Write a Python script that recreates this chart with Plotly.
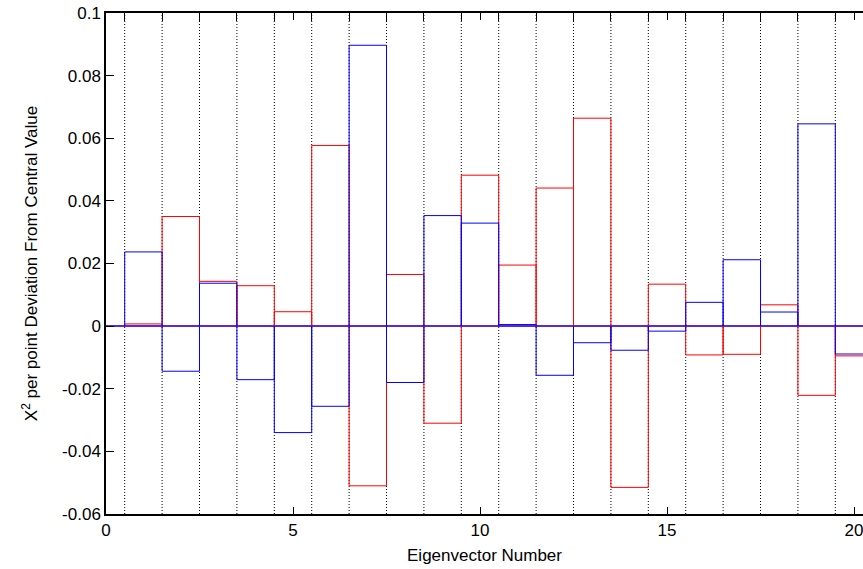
import plotly.graph_objects as go

eigenvectors = list(range(1, 21))
red_values = [0.0007, 0.0350, 0.0143, 0.0129, 0.0046, 0.0577, -0.0510, 0.0165, -0.0310, 0.0482,
              0.0195, 0.0441, 0.0664, -0.0515, 0.0134, -0.0092, -0.0090, 0.0068, -0.0221, -0.0095]
blue_values = [0.0237, -0.0144, 0.0137, -0.0171, -0.0340, -0.0256, 0.0897, -0.0180, 0.0353, 0.0329,
               0.0005, -0.0157, -0.0053, -0.0077, -0.0016, 0.0076, 0.0212, 0.0045, 0.0646, -0.0089]
x_ticks = [0, 5, 10, 15, 20]
y_ticks = [0.1, 0.08, 0.06, 0.04, 0.02, 0, -0.02, -0.04, -0.06]
y_tick_text = ["0.1", "0.08", "0.06", "0.04", "0.02", "0", "-0.02", "-0.04", "-0.06"]
separators = [i + 0.5 for i in range(0, 20)]

FONT = "Liberation Sans, Arial, Helvetica, sans-serif"
X_RANGE = [0, 20.24]
Y_RANGE = [-0.06, 0.1]


def box_outline(xs, vals):
    px, py = [], []
    for x, v in zip(xs, vals):
        px += [x - 0.5, x - 0.5, x + 0.5, x + 0.5, None]
        py += [0, v, v, 0, None]
    return px, py


def separator_lines(xs):
    px, py = [], []
    for x in xs:
        px += [x, x, None]
        py += [Y_RANGE[0], Y_RANGE[1], None]
    return px, py


fig = go.Figure()
sx, sy = separator_lines(separators)
fig.add_trace(go.Scatter(x=sx, y=sy, mode="lines",
                         line=dict(color="black", width=1, dash="1px,2px"),
                         showlegend=False, hoverinfo="skip"))
rx, ry = box_outline(eigenvectors, red_values)
fig.add_trace(go.Scatter(x=rx, y=ry, mode="lines", line=dict(color="#ff0000", width=1),
                         showlegend=False, hoverinfo="skip"))
bx, by = box_outline(eigenvectors, blue_values)
fig.add_trace(go.Scatter(x=bx, y=by, mode="lines", line=dict(color="#0000ff", width=1),
                         showlegend=False, hoverinfo="skip"))
fig.add_trace(go.Scatter(x=separators, y=[None] * len(separators), xaxis="x2",
                         mode="lines", showlegend=False, hoverinfo="skip"))

fig.update_layout(
    width=863, height=569,
    margin=dict(l=106, r=0, t=13, b=55),
    paper_bgcolor="white", plot_bgcolor="white",
    font=dict(family=FONT, size=17, color="black"),
    xaxis=dict(range=X_RANGE, tickvals=x_ticks, ticktext=[str(v) for v in x_ticks],
               ticks="inside", ticklen=7, tickwidth=1, tickcolor="black",
               ticklabeloverflow="allow",
               showline=True, linecolor="black", linewidth=1.5, mirror="ticks",
               showgrid=False, zeroline=False,
               title=dict(text="Eigenvector Number", font=dict(size=17), standoff=10)),
    xaxis2=dict(range=X_RANGE, overlaying="x", side="top", tickvals=separators,
                ticks="inside", ticklen=8, tickwidth=1, tickcolor="black",
                showticklabels=False, showline=False, showgrid=False, zeroline=False),
    yaxis=dict(range=Y_RANGE, tickvals=y_ticks, ticktext=y_tick_text,
               ticks="inside", ticklen=8, tickwidth=1, tickcolor="black",
               showline=True, linecolor="black", linewidth=1.5,
               showgrid=False, zeroline=True, zerolinecolor="#5a2ad4", zerolinewidth=1.5,
               title=dict(text="X<sup>2</sup> per point Deviation From Central Value",
                          font=dict(size=17), standoff=20)),
)

fig.write_html("out.html", config={"displayModeBar": False},
               post_script="document.body.style.margin='0';")
